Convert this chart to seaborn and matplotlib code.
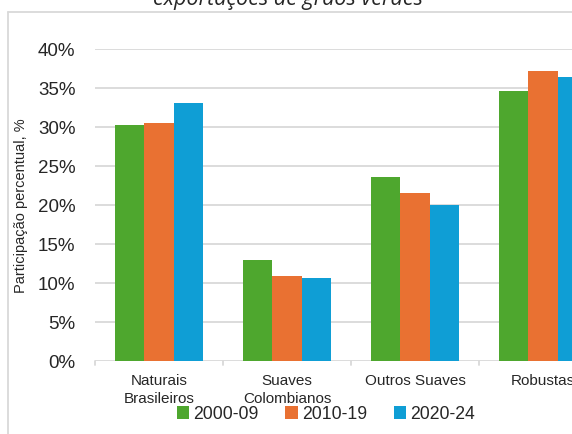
import matplotlib
matplotlib.use("Agg")
import matplotlib.pyplot as plt
from matplotlib.lines import Line2D
from matplotlib.patches import Patch
from matplotlib.ticker import FuncFormatter, FixedLocator
import seaborn as sns
import pandas as pd

# Participação de cada grupo de café nas exportações de grãos verdes
categories = ["Naturais\nBrasileiros", "Suaves\nColombianos", "Outros Suaves", "Robustas"]
periods = ["2000-09", "2010-19", "2020-24"]
share_2000_09 = [30.2, 12.9, 23.6, 34.6]
share_2010_19 = [30.4, 10.8, 21.5, 37.1]
share_2020_24 = [33.0, 10.6, 20.0, 36.4]
y_ticks = [0, 5, 10, 15, 20, 25, 30, 35, 40]

colors = ["#4EA72E", "#E97132", "#0F9ED5"]
grid_color = "#D9D9D9"

rows = []
for period, values in zip(periods, [share_2000_09, share_2010_19, share_2020_24]):
    for cat, v in zip(categories, values):
        rows.append({"categoria": cat, "periodo": period, "valor": v})
df = pd.DataFrame(rows)

sns.set_theme(style="white")
plt.rcParams["font.family"] = ["Liberation Sans", "DejaVu Sans"]

W, H = 572, 435
fig = plt.figure(figsize=(W / 100, H / 100), dpi=100)

# plot area in pixels: left 95, right 607 (runs past the edge), y0 at 361.7, y40 at 49.5
left, right, bottom, top = 95, 607, 361.7, 49.5
ax = fig.add_axes([left / W, 1 - bottom / H, (right - left) / W, (bottom - top) / H])

sns.barplot(data=df, x="categoria", y="valor", hue="periodo", order=categories,
            hue_order=periods, palette=colors, width=0.69, saturation=1,
            edgecolor="none", linewidth=0, ax=ax, legend=False)

ax.set_xlim(-0.5, 3.5)
ax.set_ylim(0, 40)
ax.yaxis.set_major_locator(FixedLocator(y_ticks))
ax.yaxis.set_major_formatter(FuncFormatter(lambda v, p: f"{v:.0f}%"))
ax.yaxis.grid(True, color=grid_color, linewidth=1.3)
ax.set_axisbelow(True)
for s in ax.spines.values():
    s.set_visible(False)

ax.tick_params(axis="y", length=0, pad=14, labelsize=13.5, labelcolor="#262626")
ax.tick_params(axis="x", length=0, pad=9, labelsize=11, labelcolor="#262626")
ax.set_xlabel("")
ax.set_ylabel("Participação percentual, %", fontsize=10.5, color="#262626", labelpad=3)
ax.yaxis.set_label_coords(-(95 - 28) / (right - left), 0.5)
for t in ax.get_xticklabels():
    t.set_linespacing(1.35)

# category separators below the baseline
for xb in [-0.5, 0.5, 1.5, 2.5, 3.5]:
    ax.plot([xb, xb], [0, -0.55], color=grid_color, linewidth=1.3, clip_on=False)

# chart frame
fig.add_artist(Line2D([8 / W, 8 / W], [0, 1 - 13 / H], color=grid_color, linewidth=1.3))
fig.add_artist(Line2D([8 / W, 1], [1 - 13 / H, 1 - 13 / H], color=grid_color, linewidth=1.3))

# title (last line)
fig.text(288 / W, 1 - 5 / H, "exportações de grãos verdes", ha="center", va="baseline",
         fontsize=15.5, style="italic", color="#262626", family=["Open Sans", "DejaVu Sans"])

handles = [Patch(facecolor=c, edgecolor="none") for c in colors]
fig.legend(handles, periods, loc="center", bbox_to_anchor=(326 / W, 1 - 415 / H),
           ncol=3, frameon=False, fontsize=12.7, handlelength=0.7, handleheight=0.7,
           handletextpad=0.25, columnspacing=1.5, borderpad=0, labelcolor="#262626")

fig.savefig("out.png", dpi=100)
